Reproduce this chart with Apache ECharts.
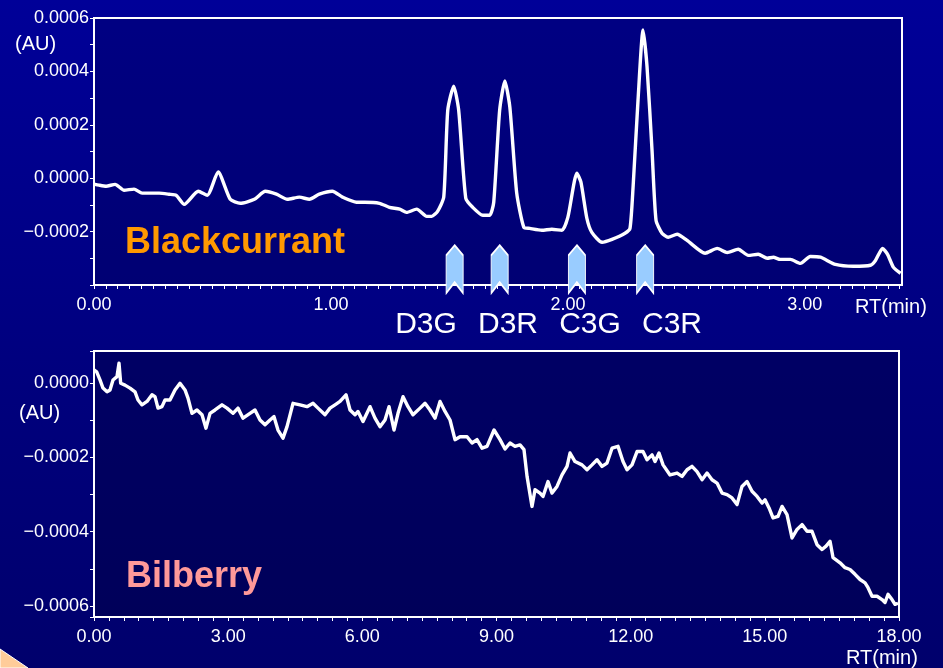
<!DOCTYPE html>
<html>
<head>
<meta charset="utf-8">
<script src="https://cdn.jsdelivr.net/npm/echarts@6/dist/echarts.min.js"></script>
<style>
html,body{margin:0;padding:0;}
body{width:943px;height:668px;overflow:hidden;background:linear-gradient(to bottom,#000098 0%,#00007c 60%,#00006c 100%);}
#c{width:943px;height:668px;}
</style>
</head>
<body>
<div id="c"></div>
<script>
// Blackcurrant chromatogram: [RT (min), absorbance (AU)]
const blackcurrant = [
[0.000,-0.000022],[0.021,-0.000026],[0.051,-0.000030],[0.089,-0.000023],[0.127,-0.000045],
[0.169,-0.000041],[0.203,-0.000056],[0.275,-0.000056],[0.317,-0.000060],[0.347,-0.000064],
[0.381,-0.000098],[0.440,-0.000049],[0.478,-0.000064],[0.524,0.000023],[0.575,-0.000079],
[0.617,-0.000094],[0.677,-0.000079],[0.723,-0.000049],[0.770,-0.000060],[0.816,-0.000079],
[0.867,-0.000071],[0.909,-0.000079],[0.951,-0.000060],[1.006,-0.000049],[1.049,-0.000071],
[1.108,-0.000090],[1.142,-0.000090],[1.205,-0.000094],[1.247,-0.000109],[1.290,-0.000116],
[1.319,-0.000128],[1.362,-0.000116],[1.404,-0.000143],[1.425,-0.000143],[1.450,-0.000124],
[1.476,-0.000071],[1.493,0.000255],[1.518,0.000345],[1.539,0.000255],[1.569,-0.000075],
[1.598,-0.000109],[1.641,-0.000139],[1.670,-0.000139],[1.687,-0.000090],[1.712,0.000255],
[1.734,0.000364],[1.755,0.000266],[1.784,-0.000056],[1.814,-0.000184],[1.839,-0.000188],
[1.890,-0.000195],[1.932,-0.000191],[1.975,-0.000195],[2.000,-0.000146],[2.038,0.000019],
[2.055,-0.000015],[2.080,-0.000150],[2.101,-0.000203],[2.144,-0.000240],[2.186,-0.000229],
[2.241,-0.000206],[2.262,-0.000188],[2.275,-0.000034],[2.296,0.000293],[2.317,0.000555],
[2.334,0.000417],[2.355,0.000105],[2.372,-0.000158],[2.397,-0.000206],[2.423,-0.000221],
[2.461,-0.000210],[2.503,-0.000233],[2.579,-0.000281],[2.630,-0.000263],[2.672,-0.000278],
[2.719,-0.000266],[2.761,-0.000289],[2.803,-0.000285],[2.841,-0.000300],[2.867,-0.000296],
[2.896,-0.000304],[2.939,-0.000304],[2.981,-0.000319],[3.023,-0.000293],[3.066,-0.000296],
[3.129,-0.000323],[3.205,-0.000330],[3.277,-0.000326],[3.298,-0.000308],[3.328,-0.000263],
[3.349,-0.000285],[3.374,-0.000334],[3.404,-0.000356]
];

// Bilberry chromatogram: [RT (min), absorbance (AU)]
const bilberry = [
[0.000,0.000036],[0.060,0.000031],[0.134,0.000009],[0.201,-0.000013],[0.291,-0.000023],
[0.358,-0.000018],[0.425,0.000009],[0.514,0.000018],[0.559,0.000054],[0.597,0.000000],
[0.693,-0.000005],[0.805,-0.000013],[0.917,-0.000023],[0.984,-0.000045],[1.073,-0.000058],
[1.185,-0.000049],[1.297,-0.000031],[1.364,-0.000036],[1.431,-0.000067],[1.520,-0.000063],
[1.588,-0.000045],[1.699,-0.000045],[1.811,-0.000018],[1.923,0.000000],[2.035,-0.000018],
[2.102,-0.000040],[2.191,-0.000081],[2.303,-0.000072],[2.415,-0.000085],[2.504,-0.000121],
[2.594,-0.000081],[2.706,-0.000072],[2.862,-0.000058],[2.974,-0.000067],[3.108,-0.000081],
[3.220,-0.000067],[3.332,-0.000094],[3.488,-0.000081],[3.600,-0.000072],[3.712,-0.000099],
[3.824,-0.000112],[3.936,-0.000099],[4.025,-0.000090],[4.114,-0.000126],[4.226,-0.000148],
[4.316,-0.000117],[4.450,-0.000054],[4.606,-0.000058],[4.763,-0.000063],[4.897,-0.000054],
[5.009,-0.000067],[5.165,-0.000085],[5.277,-0.000067],[5.389,-0.000058],[5.501,-0.000049],
[5.635,-0.000031],[5.725,-0.000072],[5.836,-0.000085],[5.903,-0.000076],[6.015,-0.000103],
[6.172,-0.000063],[6.283,-0.000094],[6.395,-0.000117],[6.507,-0.000099],[6.597,-0.000063],
[6.708,-0.000126],[6.798,-0.000081],[6.910,-0.000036],[7.021,-0.000063],[7.133,-0.000085],
[7.290,-0.000067],[7.402,-0.000054],[7.513,-0.000072],[7.625,-0.000094],[7.737,-0.000049],
[7.849,-0.000076],[7.961,-0.000099],[8.072,-0.000152],[8.184,-0.000144],[8.341,-0.000144],
[8.453,-0.000161],[8.564,-0.000152],[8.676,-0.000175],[8.788,-0.000170],[8.945,-0.000126],
[9.079,-0.000152],[9.191,-0.000177],[9.302,-0.000161],[9.414,-0.000170],[9.526,-0.000166],
[9.615,-0.000179],[9.683,-0.000251],[9.794,-0.000332],[9.861,-0.000287],[9.973,-0.000296],
[10.040,-0.000305],[10.152,-0.000265],[10.242,-0.000296],[10.353,-0.000278],[10.465,-0.000247],
[10.577,-0.000224],[10.644,-0.000188],[10.756,-0.000211],[10.912,-0.000220],[11.024,-0.000233],
[11.136,-0.000220],[11.248,-0.000206],[11.360,-0.000224],[11.471,-0.000215],[11.583,-0.000175],
[11.717,-0.000170],[11.829,-0.000211],[11.919,-0.000233],[12.030,-0.000220],[12.142,-0.000184],
[12.276,-0.000184],[12.366,-0.000206],[12.478,-0.000193],[12.545,-0.000211],[12.634,-0.000188],
[12.724,-0.000220],[12.880,-0.000247],[13.037,-0.000242],[13.149,-0.000251],[13.261,-0.000233],
[13.372,-0.000224],[13.484,-0.000238],[13.596,-0.000260],[13.708,-0.000242],[13.819,-0.000260],
[13.931,-0.000269],[14.043,-0.000296],[14.155,-0.000300],[14.267,-0.000309],[14.378,-0.000327],
[14.490,-0.000278],[14.602,-0.000265],[14.714,-0.000291],[14.826,-0.000305],[14.937,-0.000323],
[15.004,-0.000314],[15.094,-0.000336],[15.183,-0.000363],[15.295,-0.000359],[15.385,-0.000332],
[15.496,-0.000354],[15.608,-0.000417],[15.720,-0.000394],[15.832,-0.000381],[15.944,-0.000399],
[16.055,-0.000399],[16.167,-0.000435],[16.279,-0.000448],[16.369,-0.000439],[16.458,-0.000426],
[16.525,-0.000470],[16.682,-0.000484],[16.793,-0.000497],[16.905,-0.000502],[17.017,-0.000515],
[17.129,-0.000529],[17.241,-0.000538],[17.308,-0.000551],[17.397,-0.000574],[17.509,-0.000574],
[17.621,-0.000583],[17.688,-0.000591],[17.755,-0.000569],[17.844,-0.000583],[17.911,-0.000596],
[17.978,-0.000593]
];

// Peak markers (Blackcurrant)
const peakRT = [1.522, 1.712, 2.038, 2.326];
const peakNames = ['D3G', 'D3R', 'C3G', 'C3R'];
const markerLevel = -0.000341;

// Axis settings
const topX = {min: 0, max: 3.41, step: 0.05};
const topY = {min: -0.0004, max: 0.0006, interval: 0.0002};
const botX = {min: 0, max: 18, interval: 3};
const botY = {min: -0.00063, max: 0.000087};

const FONT = '"Liberation Sans", Arial, sans-serif';

function fmtY(v) {
  if (Math.abs(v) < 1e-12) return '0.0000';
  return (v < 0 ? '\u2212' : '') + Math.abs(v).toFixed(4);
}
function fmtTopX(v) {
  return Math.abs(v - Math.round(v)) < 1e-6 ? v.toFixed(2) : '';
}

const chart = echarts.init(document.getElementById('c'), null, {renderer: 'canvas'});

const axisLineStyle = {show: true, onZero: false, lineStyle: {color: '#ffffff', width: 2}};
const labelStyle = {color: '#ffffff', fontSize: 18, fontFamily: FONT};
const tickStyle = {color: '#ffffff', width: 1};

const markerPath = 'path://M8,0 L16,10 L16,48 L8,37 L0,48 L0,10 Z';

chart.setOption({
  backgroundColor: 'transparent',
  animation: false,
  grid: [
    {left: 94, right: 41, top: 18, height: 267, show: true, borderColor: '#ffffff', borderWidth: 2,
     backgroundColor: 'rgba(0,0,40,0.18)'},
    {left: 94, right: 44, top: 351, height: 266, show: true, borderColor: '#ffffff', borderWidth: 2,
     backgroundColor: 'rgba(0,0,40,0.30)'}
  ],
  xAxis: [
    {type: 'value', gridIndex: 0, min: topX.min, max: topX.max, interval: topX.step,
     axisLine: axisLineStyle, splitLine: {show: false},
     axisTick: {show: true, length: 4, lineStyle: tickStyle},
     axisLabel: Object.assign({formatter: fmtTopX, margin: 11, showMaxLabel: false}, labelStyle)},
    {type: 'value', gridIndex: 1, min: botX.min, max: botX.max, interval: botX.interval,
     axisLine: axisLineStyle, splitLine: {show: false},
     axisTick: {show: true, length: 4, lineStyle: tickStyle},
     minorTick: {show: true, splitNumber: 9, length: 4, lineStyle: tickStyle},
     axisLabel: Object.assign({formatter: v => v.toFixed(2), margin: 11}, labelStyle)}
  ],
  yAxis: [
    {type: 'value', gridIndex: 0, min: topY.min, max: topY.max, interval: topY.interval,
     axisLine: axisLineStyle, splitLine: {show: false},
     axisTick: {show: true, length: 4, lineStyle: tickStyle},
     minorTick: {show: true, splitNumber: 2, length: 4, lineStyle: tickStyle},
     axisLabel: Object.assign({formatter: fmtY, margin: 5, showMinLabel: false}, labelStyle)},
    {type: 'value', gridIndex: 1, min: botY.min, max: botY.max, splitNumber: 4,
     axisLine: axisLineStyle, splitLine: {show: false},
     axisTick: {show: true, length: 4, lineStyle: tickStyle},
     minorTick: {show: true, splitNumber: 2, length: 4, lineStyle: tickStyle},
     axisLabel: Object.assign({formatter: fmtY, margin: 5, showMinLabel: false, showMaxLabel: false}, labelStyle)}
  ],
  series: [
    {type: 'line', xAxisIndex: 0, yAxisIndex: 0, data: blackcurrant, showSymbol: false,
     smooth: 0.2, lineStyle: {color: '#ffffff', width: 3.4, join: 'round'}, z: 3},
    {type: 'line', xAxisIndex: 1, yAxisIndex: 1, data: bilberry, showSymbol: false,
     smooth: false, lineStyle: {color: '#ffffff', width: 3.4, join: 'round'}, z: 3},
    {type: 'scatter', xAxisIndex: 0, yAxisIndex: 0, clip: false,
     data: peakRT.map(t => [t, markerLevel]),
     symbol: markerPath, symbolSize: [17, 48],
     itemStyle: {color: '#99ccff', borderColor: '#ffffff', borderWidth: 1.5, opacity: 1}, z: 5}
  ],
  graphic: [
    {type: 'polygon', shape: {points: [[0, 649], [28, 668], [0, 668]]},
     style: {fill: '#ffcc99', stroke: '#ffffff', lineWidth: 1}, z: 1},
    {type: 'text', left: 15, top: 34, style: {text: '(AU)', fill: '#ffffff', font: '20px ' + FONT}},
    {type: 'text', left: 19, top: 403, style: {text: '(AU)', fill: '#ffffff', font: '20px ' + FONT}},
    {type: 'text', left: 855, top: 297, style: {text: 'RT(min)', fill: '#ffffff', font: '20px ' + FONT}},
    {type: 'text', left: 846, top: 648, style: {text: 'RT(min)', fill: '#ffffff', font: '20px ' + FONT}},
    {type: 'text', left: 125, top: 225, style: {text: 'Blackcurrant', fill: '#ff9900', font: 'bold 36px ' + FONT}},
    {type: 'text', left: 126, top: 559, style: {text: 'Bilberry', fill: '#ff9999', font: 'bold 36px ' + FONT}},
    {type: 'group', children: peakNames.map((n, i) => ({
      type: 'text', x: 426 + i * 82, y: 325,
      style: {text: n, fill: '#ffffff', font: '30px ' + FONT, align: 'center', verticalAlign: 'middle'}
    }))}
  ]
});
</script>
</body>
</html>
